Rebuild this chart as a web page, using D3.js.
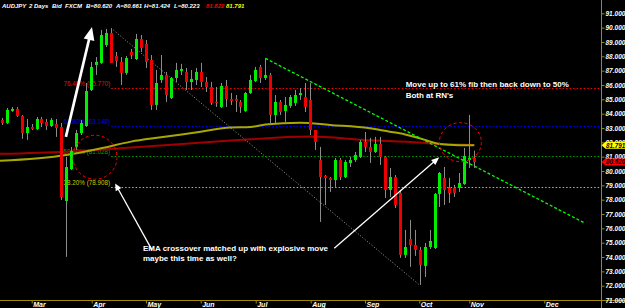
<!DOCTYPE html>
<html><head><meta charset="utf-8">
<script src="https://cdn.jsdelivr.net/npm/d3@7"></script>
<style>html,body{margin:0;padding:0;background:#000;overflow:hidden}svg{display:block}</style>
</head><body>
<svg id="chart" width="625" height="308"></svg>
<script>
// ---------- DATA ----------
const opens = [83.56,83.35,84.19,84.33,83.84,82.65,83.07,82.93,83.63,83.42,
83.14,83.28,83.07,77.91,80.14,81.68,82.65,83.14,85.65,87.40,
87.54,88.79,89.63,88.02,87.61,86.84,88.30,87.81,89.21,88.86,
87.74,84.61,86.35,86.70,85.09,86.49,86.98,86.91,86.21,86.35,
86.91,86.21,85.86,84.82,84.47,85.93,85.02,85.02,84.82,84.19,
85.44,86.28,87.26,86.49,86.70,83.91,84.82,84.19,84.54,84.75,
85.30,85.16,84.95,82.86,80.77,79.65,79.51,79.37,80.77,79.58,
80.56,80.77,80.98,82.03,81.68,81.33,81.89,80.98,78.68,79.58,
78.47,74.15,75.26,74.84,74.49,73.38,74.70,74.63,78.40,79.51,
78.82,78.82,78.82,79.09,80.77,80.91];
const highs = [83.70,84.40,84.47,84.47,83.91,83.63,83.28,83.77,83.77,83.63,
83.70,83.63,83.35,80.98,81.68,82.86,83.56,86.14,87.61,87.95,
89.84,89.91,89.91,88.30,87.95,88.02,88.51,89.56,89.49,89.14,
88.09,87.05,88.09,86.91,86.56,87.54,87.47,87.19,87.05,87.19,
87.54,86.56,86.21,85.86,86.14,86.35,85.44,85.30,84.95,85.51,
86.70,87.26,87.40,87.88,86.84,85.30,84.95,85.16,85.30,85.65,
85.79,86.14,86.14,82.86,81.68,79.72,79.58,80.91,80.91,80.77,
80.98,81.33,82.17,82.72,82.31,82.38,82.38,81.05,80.21,79.72,
78.68,75.89,76.59,75.89,74.70,74.98,75.89,78.47,79.93,80.28,
79.51,79.03,79.86,81.61,83.91,81.42];
const lows = [83.21,83.28,84.12,83.77,82.24,82.17,82.86,82.86,83.07,82.86,
83.07,82.38,77.98,74.01,80.07,81.47,82.51,83.07,85.58,86.70,
87.47,88.65,87.54,87.26,86.00,86.70,87.81,87.74,88.30,87.19,
84.26,84.26,86.14,84.82,85.02,86.21,86.70,85.65,85.65,86.00,
85.86,85.51,84.61,84.47,84.40,84.47,84.61,84.12,84.05,84.12,
85.37,86.21,86.14,86.35,83.35,83.35,83.91,83.42,84.40,84.54,
84.95,84.12,82.51,81.47,76.45,77.63,78.54,78.89,79.37,79.51,
80.28,80.63,80.91,81.33,80.56,81.26,80.42,78.12,78.19,77.42,
73.94,73.94,73.31,74.08,72.05,72.61,74.56,74.56,77.49,77.63,
77.77,78.19,78.54,79.03,80.21,80.22];
const closes = [83.35,84.26,84.33,83.84,82.65,83.07,82.93,83.63,83.35,83.14,
83.56,83.00,78.19,80.28,81.40,82.65,83.35,85.58,87.26,87.61,
89.49,89.63,87.54,87.67,86.84,87.88,88.09,89.21,88.58,87.61,
84.61,86.14,86.70,85.30,86.49,87.05,87.12,86.21,86.42,86.91,
86.21,85.86,84.75,84.75,85.93,85.02,84.89,84.89,84.47,85.44,
86.35,87.05,86.49,86.70,83.91,84.82,84.12,84.61,85.16,85.30,
85.44,84.47,82.86,82.03,79.58,79.51,79.37,80.77,79.58,80.63,
80.77,81.12,82.03,81.68,81.33,81.89,80.98,78.68,79.58,77.63,
74.15,74.70,74.84,74.49,73.45,74.70,75.12,78.40,79.86,78.68,
78.47,78.47,79.16,81.05,80.91,80.62];

// EMA sample points (bar index, price)
const emaYellowIdx = [-1,13,20,26,32,40,46,50,53,60,66,74,78,80,84,88,92,95];
const emaYellow    = [80.70,81.12,81.59,82.05,82.35,82.74,83.04,83.07,83.25,83.37,83.21,82.98,82.74,82.63,82.28,81.89,81.80,81.791];
const emaRedIdx = [-1,13,32,46,62,73,84,88,95];
const emaRed    = [81.19,81.35,81.78,82.12,82.40,82.17,81.98,81.89,81.822];

const fibLabels = ["76.40% (85.770)","61.80% (83.148)","50.00% (81.028)","38.20% (78.908)"];
const fibValues = [85.770,83.148,81.028,78.908];
const fibStartIdx = 22;

const priceTicks = [71,72,73,74,75,76,77,78,79,80,81,82,83,84,85,86,87,88,89,90,91];
const monthLabels = ["Mar","Apr","May","Jun","Jul","Aug","Sep","Oct","Nov","Dec"];
const monthIdx = [6.03,18.09,29.0,40.0,51.06,62.11,73.03,83.94,93.99,109.07];

// trend lines [idx, price]
const grayTrend = [[22,89.96],[84,72.05]];
const greenTrend = [[53,87.86],[117.25,76.36]];

const titleParts = [
  {t:"AUDJPY", x:2, c:"#fff"},{t:"2 Days", x:29, c:"#fff"},{t:"Bid", x:52, c:"#fff"},{t:"FXCM", x:65, c:"#fff"},
  {t:"B=80.620", x:86, c:"#fff"},{t:"A=80.661", x:116, c:"#fff"},{t:"H=81.424", x:144, c:"#fff"},
  {t:"L=80.223", x:174, c:"#fff"},{t:"81.822", x:206, c:"#ff0000"},{t:"81.791", x:226, c:"#ffff00"}];
const bid = 80.620;

// ---------- SCALES ----------
const svg = d3.select("#chart");
svg.append("rect").attr("width",625).attr("height",308).attr("fill","#000");
const x = d3.scaleLinear().domain([0,95]).range([1.7,474.3]);
const y = d3.scaleLinear().domain([72,91]).range([285.7,13.3]);
const AX = 601.5, AY = 300.5;
const axisColor = "#a08a00";
const font = "Liberation Sans, Arial, sans-serif";

svg.append("defs").append("clipPath").attr("id","plot").append("rect").attr("x",0).attr("y",0).attr("width",601).attr("height",300);
const plot = svg.append("g").attr("clip-path","url(#plot)");

// fib lines
const fibColors = ["#ff0000","#0000ff","#00a000","#c8c800"];
fibValues.forEach((v,k)=>{
  plot.append("line").attr("x1",x(fibStartIdx)).attr("x2",AX).attr("y1",Math.round(y(v))+0.5).attr("y2",Math.round(y(v))+0.5)
    .attr("stroke",fibColors[k]).attr("stroke-width",1).attr("stroke-dasharray","1.5,2");
  plot.append("text").attr("x",x(fibStartIdx)-1).attr("y",y(v)-2).attr("text-anchor","end")
    .attr("fill",fibColors[k]).attr("font-family",font).attr("font-size",6.3).text(fibLabels[k]);
});

// EMA lines
const lineGen = d3.line().curve(d3.curveMonotoneX);
plot.append("path").attr("d",lineGen(emaRedIdx.map((d,i)=>[x(d),y(emaRed[i])]))).attr("fill","none").attr("stroke","#a00000").attr("stroke-width",2);
plot.append("path").attr("d",lineGen(emaYellowIdx.map((d,i)=>[x(d),y(emaYellow[i])]))).attr("fill","none").attr("stroke","#a8a800").attr("stroke-width",2);

// trend lines
plot.append("line").attr("x1",x(grayTrend[0][0])).attr("y1",y(grayTrend[0][1])).attr("x2",x(grayTrend[1][0])).attr("y2",y(grayTrend[1][1]))
  .attr("stroke","#a0a0a0").attr("stroke-width",1).attr("stroke-dasharray","1,2");
plot.append("line").attr("x1",x(greenTrend[0][0])).attr("y1",y(greenTrend[0][1])).attr("x2",x(greenTrend[1][0])).attr("y2",y(greenTrend[1][1]))
  .attr("stroke","#00ff00").attr("stroke-width",1.3).attr("stroke-dasharray","3,2");

// candles
const candles = opens.map((o,i)=>({i,o,h:highs[i],l:lows[i],c:closes[i]}));
const cg = plot.append("g");
cg.selectAll("line.wick").data(candles).join("line").attr("class","wick")
  .attr("x1",d=>Math.round(x(d.i))+0.5).attr("x2",d=>Math.round(x(d.i))+0.5)
  .attr("y1",d=>y(d.h)).attr("y2",d=>y(d.l)).attr("stroke","#8c8c8c").attr("stroke-width",1);
cg.selectAll("rect.body").data(candles).join("rect").attr("class","body")
  .attr("x",d=>Math.round(x(d.i))-1).attr("width",3)
  .attr("y",d=>y(Math.max(d.o,d.c))).attr("height",d=>Math.max(1,Math.abs(y(d.o)-y(d.c))))
  .attr("fill",d=>d.c>=d.o?"#00ee00":"#ee0000");

// dashed circles
const circles = [{i:18.75,p:80.96,rx:22,ry:22},{i:92.2,p:82.01,rx:21,ry:19.5}];
plot.selectAll("ellipse").data(circles).join("ellipse").attr("cx",d=>x(d.i)).attr("cy",d=>y(d.p)).attr("rx",d=>d.rx).attr("ry",d=>d.ry)
  .attr("fill","none").attr("stroke","#ff0000").attr("stroke-width",1).attr("stroke-dasharray","3,2.5");

// arrows
function arrow(x1,y1,x2,y2,lw,hl,hw){
  const dx=x2-x1, dy=y2-y1, L=Math.hypot(dx,dy), ux=dx/L, uy=dy/L, px=-uy, py=ux;
  const bx=x2-ux*hl, by=y2-uy*hl;
  plot.append("line").attr("x1",x1).attr("y1",y1).attr("x2",bx+ux*1).attr("y2",by+uy*1).attr("stroke","#fff").attr("stroke-width",lw);
  plot.append("polygon").attr("points",[[x2,y2],[bx+px*hw,by+py*hw],[bx-px*hw,by-py*hw]].map(p=>p.join(",")).join(" ")).attr("fill","#fff");
}
const arrows = [
  {a:[12.9,82.38], b:[18.15,90.04], lw:2.7, hl:13, hw:5.5},
  {a:[30.2,74.50], b:[22.8,79.13], lw:1.3, hl:7, hw:3.2},
  {a:[66.85,74.61], b:[87.96,80.96], lw:1.3, hl:8, hw:3.2}];
arrows.forEach(d=>arrow(x(d.a[0]),y(d.a[1]),x(d.b[0]),y(d.b[1]),d.lw,d.hl,d.hw));

// annotation texts
const notes = [
  {t:"EMA crossover matched up with explosive move", i:28.4, p:74.40},
  {t:"maybe this time as well?", i:28.4, p:73.70},
  {t:"Move up to 61% fib then back down to 50%", i:81.2, p:85.85},
  {t:"Both at RN's", i:81.2, p:85.12}];
svg.selectAll("text.note").data(notes).join("text").attr("class","note")
  .attr("x",d=>x(d.i)).attr("y",d=>y(d.p)).attr("fill","#fff").attr("font-family",font)
  .attr("font-weight","bold").attr("font-size",8).text(d=>d.t);

// ---------- AXES ----------
svg.append("line").attr("x1",AX).attr("x2",AX).attr("y1",0).attr("y2",308).attr("stroke",axisColor).attr("stroke-width",1);
svg.append("line").attr("x1",0).attr("x2",625).attr("y1",AY).attr("y2",AY).attr("stroke",axisColor).attr("stroke-width",1);

const yAxis = svg.append("g").attr("transform",`translate(${AX},0)`)
  .call(d3.axisRight(y).tickValues(priceTicks).tickFormat(d3.format(".3f")).tickSize(3).tickPadding(1));
yAxis.select(".domain").remove();
yAxis.selectAll("line").attr("stroke",axisColor);
yAxis.selectAll("text").attr("fill","#fff").attr("font-family",font).attr("font-size",6.5)
  .attr("font-weight","bold").attr("font-style","italic");

const xAxis = svg.append("g").attr("transform",`translate(0,${AY})`)
  .call(d3.axisBottom(x).tickValues(monthIdx).tickFormat((d,i)=>monthLabels[i]).tickSize(3));
xAxis.select(".domain").remove();
xAxis.selectAll("line").attr("stroke",axisColor);
xAxis.selectAll("text").attr("fill","#fff").attr("font-family",font).attr("font-size",7)
  .attr("font-weight","bold").attr("font-style","italic").attr("text-anchor","start")
  .attr("x",1).attr("y",6.8).attr("dy",0);

// price boxes
const boxes = [{v:emaYellow[emaYellow.length-1], fill:"#ffff00"},{v:bid, fill:"#ff0000"}];
boxes.forEach(b=>{
  const yc=y(b.v);
  svg.append("polygon").attr("points",`${AX},${yc} ${AX+4},${yc-3.5} 625,${yc-3.5} 625,${yc+3.5} ${AX+4},${yc+3.5}`).attr("fill",b.fill);
  svg.append("text").attr("x",AX+4.5).attr("y",yc+2.3).attr("fill","#000").attr("font-family",font)
    .attr("font-size",6.3).attr("font-weight","bold").attr("font-style","italic").text(d3.format(".3f")(b.v));
});

// title
svg.selectAll("text.title").data(titleParts).join("text").attr("class","title")
  .attr("x",d=>d.x).attr("y",8).attr("fill",d=>d.c).attr("font-family",font)
  .attr("font-size",6).attr("font-style","italic").attr("font-weight","bold").text(d=>d.t);
</script>
</body></html>
